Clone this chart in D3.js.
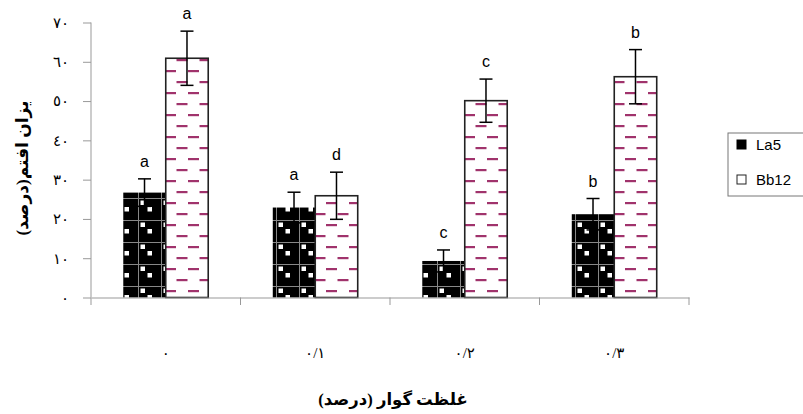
<!DOCTYPE html>
<html>
<head>
<meta charset="utf-8">
<script src="https://cdn.jsdelivr.net/npm/d3@7.9.0/dist/d3.min.js"></script>
<style>
  body { margin: 0; background: #fff; }
  svg { display: block; }
</style>
</head>
<body>
<svg id="chart" width="803" height="414"></svg>
<script>
// Chart data
const categories = ["0", "0.1", "0.2", "0.3"];
const categoryLabels = ["٠", "٠/١", "٠/٢", "٠/٣"];
const series = ["La5", "Bb12"];
const la5Values = [26.7, 22.9, 9.3, 21.2];
const bb12Values = [60.9, 25.9, 50.1, 56.2];
const la5Errors = [3.5, 3.9, 2.8, 4.0];
const bb12Errors = [6.9, 6.0, 5.5, 6.9];
const la5Letters = ["a", "a", "c", "b"];
const bb12Letters = ["a", "d", "c", "b"];
const yTicks = [0, 10, 20, 30, 40, 50, 60, 70];

const svg = d3.select("#chart");
const toArabic = n => String(n).replace(/\d/g, d => "٠١٢٣٤٥٦٧٨٩"[d]);
const serif = "'Times New Roman','Liberation Serif','DejaVu Sans',serif";

// Scales
const x0 = d3.scaleBand().domain(categories).range([91, 689]).padding(0);
const x1 = d3.scaleBand().domain(series).range([0, x0.bandwidth()]).paddingInner(0).paddingOuter(0.76);
const y = d3.scaleLinear().domain([0, 70]).range([297.5, 22.5]);

// Patterns
const defs = svg.append("defs");
const pDots = defs.append("pattern").attr("id", "pat-la5")
  .attr("patternUnits", "userSpaceOnUse").attr("width", 23).attr("height", 22);
pDots.append("rect").attr("width", 23).attr("height", 22).attr("fill", "#000");
pDots.append("path").attr("d", "M0,0.5H23M0.5,0V22")
  .attr("stroke", "#888").attr("stroke-width", 1);
pDots.append("rect").attr("x", 2.5).attr("y", 2.5).attr("width", 4.5).attr("height", 4.5).attr("fill", "#fff");
pDots.append("rect").attr("x", 9.5).attr("y", 9).attr("width", 4.5).attr("height", 4.5).attr("fill", "#fff");

const pDash = defs.append("pattern").attr("id", "pat-bb12")
  .attr("patternUnits", "userSpaceOnUse").attr("width", 23).attr("height", 22);
pDash.append("rect").attr("width", 23).attr("height", 22).attr("fill", "#fff");
pDash.append("rect").attr("x", 4).attr("y", 4).attr("width", 11).attr("height", 2.2).attr("fill", "#a0336c");
pDash.append("rect").attr("x", 15.5).attr("y", 15).attr("width", 11).attr("height", 2.2).attr("fill", "#a0336c");
pDash.append("rect").attr("x", -7.5).attr("y", 15).attr("width", 11).attr("height", 2.2).attr("fill", "#a0336c");

// Rows for bars
const rows = [];
categories.forEach((c, i) => {
  rows.push({ cat: c, s: "La5", v: la5Values[i], e: la5Errors[i], l: la5Letters[i] });
  rows.push({ cat: c, s: "Bb12", v: bb12Values[i], e: bb12Errors[i], l: bb12Letters[i] });
});

// Y axis
const yAxis = svg.append("g").attr("transform", "translate(91,0)")
  .call(d3.axisLeft(y).tickValues(yTicks).tickSize(8).tickSizeOuter(0).tickPadding(14)
    .tickFormat(d => toArabic(d)));
yAxis.select(".domain").attr("stroke", "#999").attr("d", "M0,297.5V22.5");
yAxis.selectAll(".tick line").attr("stroke", "#999");
yAxis.selectAll(".tick text").attr("font-family", serif)
  .attr("font-size", 15).attr("fill", "#000");
svg.append("line").attr("x1", 91).attr("x2", 91).attr("y1", 297.5).attr("y2", 305).attr("stroke", "#999");

// Bars
const bars = svg.append("g");
bars.selectAll("rect").data(rows).join("rect")
  .attr("x", d => x0(d.cat) + x1(d.s))
  .attr("y", d => y(d.v))
  .attr("width", x1.bandwidth())
  .attr("height", d => y(0) - y(d.v))
  .attr("fill", d => d.s === "La5" ? "url(#pat-la5)" : "url(#pat-bb12)")
  .attr("stroke", d => d.s === "La5" ? "none" : "#222")
  .attr("stroke-width", 1.6);

// X axis
const xAxis = svg.append("g").attr("transform", "translate(0,297.5)")
  .call(d3.axisBottom(x0).tickSize(0).tickPadding(50).tickFormat((d, i) => categoryLabels[i]));
xAxis.select(".domain").attr("stroke", "#999");
xAxis.selectAll(".tick text").attr("font-family", serif)
  .attr("font-size", 15).attr("fill", "#000");
svg.append("g").selectAll("line").data(categories).join("line")
  .attr("x1", d => x0(d) + x0.bandwidth()).attr("x2", d => x0(d) + x0.bandwidth())
  .attr("y1", 297.5).attr("y2", 305).attr("stroke", "#999");

// Error bars
const err = svg.append("g").attr("stroke", "#000").attr("stroke-width", 1.5);
rows.forEach(d => {
  const cx = x0(d.cat) + x1(d.s) + x1.bandwidth() / 2;
  err.append("line").attr("x1", cx).attr("x2", cx).attr("y1", y(d.v + d.e)).attr("y2", y(d.v - d.e));
  err.append("line").attr("x1", cx - 6.5).attr("x2", cx + 6.5).attr("y1", y(d.v + d.e)).attr("y2", y(d.v + d.e));
  err.append("line").attr("x1", cx - 6.5).attr("x2", cx + 6.5).attr("y1", y(d.v - d.e)).attr("y2", y(d.v - d.e));
});

// Letters
svg.append("g").selectAll("text").data(rows).join("text")
  .attr("x", d => x0(d.cat) + x1(d.s) + x1.bandwidth() / 2)
  .attr("y", d => y(d.v + d.e) - 12)
  .attr("text-anchor", "middle")
  .attr("font-family", "'Liberation Sans',Arial,sans-serif")
  .attr("font-size", 16)
  .text(d => d.l);

// Y axis title
svg.append("text")
  .attr("transform", "translate(28,168) rotate(-90)")
  .attr("text-anchor", "middle")
  .attr("font-family", serif)
  .attr("font-weight", "bold").attr("font-size", 17)
  .text("یزان افتم(درصد)");

// X axis title
svg.append("text")
  .attr("x", 393).attr("y", 405)
  .attr("text-anchor", "middle")
  .attr("font-family", serif)
  .attr("font-weight", "bold").attr("font-size", 16.5)
  .text("غلظت گوار (درصد)");

// Legend
const legend = svg.append("g");
legend.append("rect").attr("x", 728).attr("y", 133).attr("width", 100).attr("height", 63)
  .attr("fill", "#fff").attr("stroke", "#777");
series.forEach((s, i) => {
  const ly = 145 + i * 35;
  legend.append("rect").attr("x", 737).attr("y", ly - 5).attr("width", 9).attr("height", 9)
    .attr("fill", s === "La5" ? "#000" : "#fff")
    .attr("stroke", s === "La5" ? "#000" : "#222").attr("stroke-width", 1);
  legend.append("text").attr("x", 756).attr("y", ly + 5)
    .attr("font-family", "'Liberation Sans',Arial,sans-serif").attr("font-size", 15)
    .text(s);
});
</script>
</body>
</html>
